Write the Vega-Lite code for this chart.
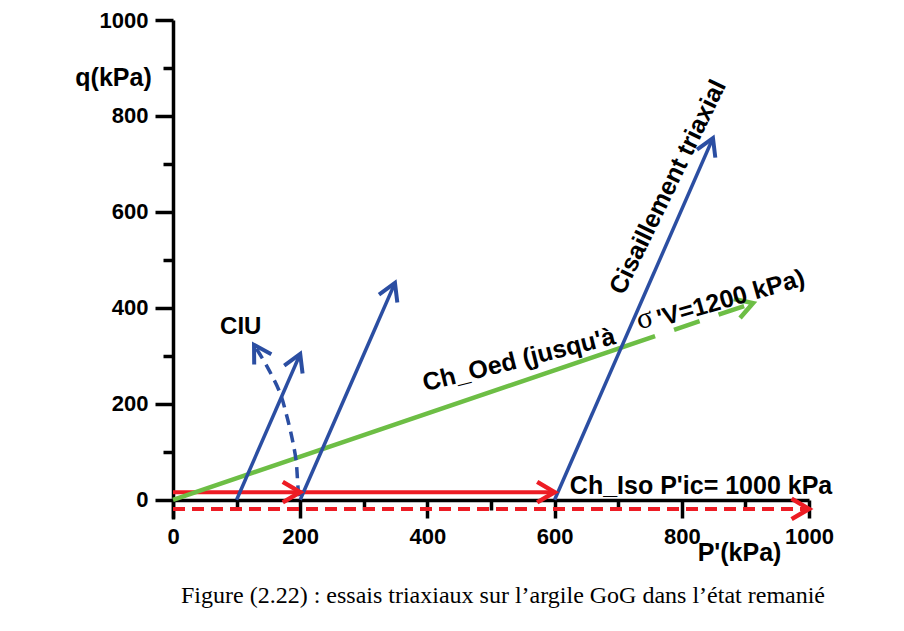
{
  "$schema": "https://vega.github.io/schema/vega-lite/v6.json",
  "width": 636,
  "height": 499,
  "autosize": {"type": "none"},
  "padding": {"left": 173, "top": 20, "right": 95, "bottom": 112},
  "background": "white",
  "config": {"view": {"stroke": null}, "font": "Liberation Sans"},
  "title": {
    "text": "Figure (2.22) : essais triaxiaux sur l’argile GoG dans l’état remanié",
    "orient": "bottom",
    "anchor": "middle",
    "font": "Liberation Serif",
    "fontSize": 24,
    "fontWeight": "normal",
    "color": "black",
    "offset": 19,
    "dx": 12
  },
  "encoding": {
    "x": {
      "field": "x",
      "type": "quantitative",
      "scale": {"domain": [0, 1000], "nice": false, "zero": false},
      "axis": {
        "values": [0, 100, 200, 300, 400, 500, 600, 700, 800, 900, 1000],
        "format": "d",
        "labelExpr": "datum.value % 200 === 0 ? datum.label : ''",
        "grid": false,
        "offset": -19,
        "domainColor": "black",
        "domainWidth": 3.5,
        "tickColor": "black",
        "tickWidth": 3.5,
        "tickSize": {"condition": {"test": "datum.value % 200 === 0", "value": 18}, "value": 10},
        "labelFontSize": 22,
        "labelFontWeight": "bold",
        "labelColor": "black",
        "labelPadding": 8,
        "labelFlush": false,
        "labelOverlap": false,
        "title": "P'(kPa)",
        "titleFontSize": 25,
        "titleFontWeight": "bold",
        "titleColor": "black",
        "titleX": 566,
        "titleY": 52,
        "titleAlign": "center",
        "titleBaseline": "middle"
      }
    },
    "y": {
      "field": "y",
      "type": "quantitative",
      "scale": {"domain": [-40, 1000], "nice": false, "zero": false},
      "axis": {
        "values": [0, 100, 200, 300, 400, 500, 600, 700, 800, 900, 1000],
        "format": "d",
        "labelExpr": "datum.value % 200 === 0 ? datum.label : ''",
        "grid": false,
        "domainColor": "black",
        "domainWidth": 3.5,
        "tickColor": "black",
        "tickWidth": 3.5,
        "tickSize": {"condition": {"test": "datum.value % 200 === 0", "value": 18}, "value": 10},
        "labelFontSize": 22,
        "labelFontWeight": "bold",
        "labelColor": "black",
        "labelPadding": 7,
        "labelFlush": false,
        "labelOverlap": false,
        "title": "q(kPa)",
        "titleFontSize": 25,
        "titleFontWeight": "bold",
        "titleColor": "black",
        "titleAngle": 0,
        "titleX": -60,
        "titleY": 57,
        "titleAlign": "center",
        "titleBaseline": "middle"
      }
    }
  },
  "layer": [
    {
      "data": {"values": [{"x": 0, "y": -19}, {"x": 1000, "y": -19}]},
      "mark": {"type": "line", "color": "#ed1c24", "strokeWidth": 4, "strokeDash": [12, 7]}
    },
    {
      "data": {"values": [{"x": 0, "y": 16}, {"x": 600, "y": 16}]},
      "mark": {"type": "line", "color": "#ed1c24", "strokeWidth": 4}
    },
    {
      "data": {"values": [{"x": 0, "y": 0}, {"x": 758, "y": 341}]},
      "mark": {"type": "line", "color": "#6dbe45", "strokeWidth": 4.5}
    },
    {
      "data": {"values": [{"x": 758, "y": 341}, {"x": 912, "y": 410}]},
      "mark": {"type": "line", "color": "#6dbe45", "strokeWidth": 4.5, "strokeDash": [27, 20], "strokeDashOffset": 27}
    },
    {
      "data": {"values": [
        {"arrow": "a", "x": 100, "y": 0}, {"arrow": "a", "x": 200, "y": 304},
        {"arrow": "b", "x": 200, "y": 0}, {"arrow": "b", "x": 349, "y": 452},
        {"arrow": "c", "x": 600, "y": 0}, {"arrow": "c", "x": 849, "y": 754}
      ]},
      "mark": {"type": "line", "color": "#2b4ea2", "strokeWidth": 3.5},
      "encoding": {"detail": {"field": "arrow"}}
    },
    {
      "data": {"values": [
        {"o": 1, "x": 199, "y": 8},
        {"o": 2, "x": 197, "y": 21},
        {"o": 3, "x": 193.4, "y": 83},
        {"o": 4, "x": 186.6, "y": 132},
        {"o": 5, "x": 177.7, "y": 181},
        {"o": 6, "x": 168.2, "y": 223},
        {"o": 7, "x": 147.8, "y": 278},
        {"o": 8, "x": 127.4, "y": 323}
      ]},
      "mark": {"type": "line", "color": "#2b4ea2", "strokeWidth": 3.5, "strokeDash": [11, 7], "interpolate": "catmull-rom"},
      "encoding": {"order": {"field": "o"}}
    },
    {
      "data": {"values": [{"x": 200, "y": 16}, {"x": 600, "y": 16}, {"x": 1000, "y": -19}]},
      "mark": {"type": "point", "shape": "M-1.7,-1L0,0L-1.7,1", "filled": false, "size": 420, "strokeWidth": 4.5, "color": "#ed1c24", "opacity": 1, "angle": 0}
    },
    {
      "data": {"values": [{"x": 912, "y": 410}]},
      "mark": {"type": "point", "shape": "M-1.7,-1L0,0L-1.7,1", "filled": false, "size": 400, "strokeWidth": 4.5, "color": "#6dbe45", "opacity": 1, "angle": 341.6}
    },
    {
      "data": {"values": [{"x": 200, "y": 304}, {"x": 349, "y": 452}, {"x": 849, "y": 754}]},
      "mark": {"type": "point", "shape": "M-1.7,-1L0,0L-1.7,1", "filled": false, "size": 400, "strokeWidth": 4, "color": "#2b4ea2", "opacity": 1, "angle": 293.6}
    },
    {
      "data": {"values": [{"x": 127.4, "y": 323}]},
      "mark": {"type": "point", "shape": "M-1.7,-1L0,0L-1.7,1", "filled": false, "size": 400, "strokeWidth": 4, "color": "#2b4ea2", "opacity": 1, "angle": 239}
    },
    {
      "data": {"values": [{"x": 74, "y": 346, "label": "CIU"}]},
      "mark": {"type": "text", "align": "left", "baseline": "alphabetic", "fontSize": 24, "fontWeight": "bold", "color": "black"},
      "encoding": {"text": {"field": "label"}}
    },
    {
      "data": {"values": [{"x": 624, "y": 12.5, "label": "Ch_Iso P'ic= 1000 kPa"}]},
      "mark": {"type": "text", "align": "left", "baseline": "alphabetic", "fontSize": 25, "fontWeight": "bold", "color": "black"},
      "encoding": {"text": {"field": "label"}}
    },
    {
      "data": {"values": [{"x": 778, "y": 652, "label": "Cisaillement triaxial"}]},
      "mark": {"type": "text", "align": "center", "baseline": "middle", "angle": -64, "fontSize": 25, "fontWeight": "bold", "color": "black"},
      "encoding": {"text": {"field": "label"}}
    },
    {
      "data": {"values": [{"x": 544, "y": 292, "label": "Ch_Oed (jusqu'à"}]},
      "mark": {"type": "text", "align": "center", "baseline": "middle", "angle": -14, "fontSize": 25, "fontWeight": "bold", "color": "black"},
      "encoding": {"text": {"field": "label"}}
    },
    {
      "data": {"values": [{"x": 733, "y": 355, "label": "σ"}]},
      "mark": {"type": "text", "align": "left", "baseline": "alphabetic", "angle": -16, "font": "Liberation Serif", "fontSize": 30, "fontWeight": "normal", "color": "black"},
      "encoding": {"text": {"field": "label"}}
    },
    {
      "data": {"values": [{"x": 877, "y": 420, "label": "'V=1200 kPa)"}]},
      "mark": {"type": "text", "align": "center", "baseline": "middle", "angle": -16, "fontSize": 25, "fontWeight": "bold", "color": "black"},
      "encoding": {"text": {"field": "label"}}
    }
  ]
}
